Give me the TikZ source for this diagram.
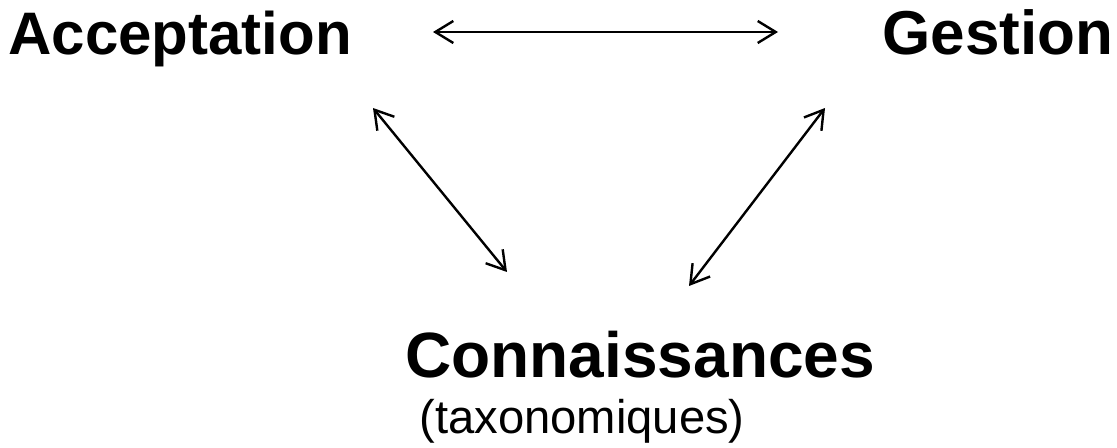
\documentclass[tikz,border=0pt]{standalone}
\usepackage{fontspec}
\setmainfont{Liberation Sans}
\usetikzlibrary{arrows.meta}

\begin{document}
\begin{tikzpicture}[x=0.5pt, y=-0.5pt,
    >={Straight Barb[length=9pt, width=11pt]},
    every node/.style={inner sep=0pt, anchor=base west},
    title/.style={font=\bfseries\fontsize{30}{36}\selectfont},
    sub/.style={font=\fontsize{23.6}{28}\selectfont}]
\useasboundingbox (0,0) rectangle (1117,448);
% Draw labels
\node[title] (acc) at (8,55) {Acceptation};
\node[title, font=\bfseries\fontsize{31}{36}\selectfont] (ges) at (882,55) {Gestion};
\node[title, font=\bfseries\fontsize{32}{38}\selectfont] (con) at (405,377) {Connaissances};
\node[sub] (tax) at (419,433) {(taxonomiques)};
% Arrow ends
\coordinate (acc-r) at (433,32);
\coordinate (ges-l) at (778,32);
\coordinate (acc-d) at (373,108);
\coordinate (con-l) at (507,272);
\coordinate (ges-d) at (825,108);
\coordinate (con-r) at (689,286);
% Draw arrows
\draw[<->, line width=1.2pt] (acc-r) -- (ges-l);
\draw[<->, line width=1.2pt] (acc-d) -- (con-l);
\draw[<->, line width=1.2pt] (ges-d) -- (con-r);
\end{tikzpicture}
\end{document}
